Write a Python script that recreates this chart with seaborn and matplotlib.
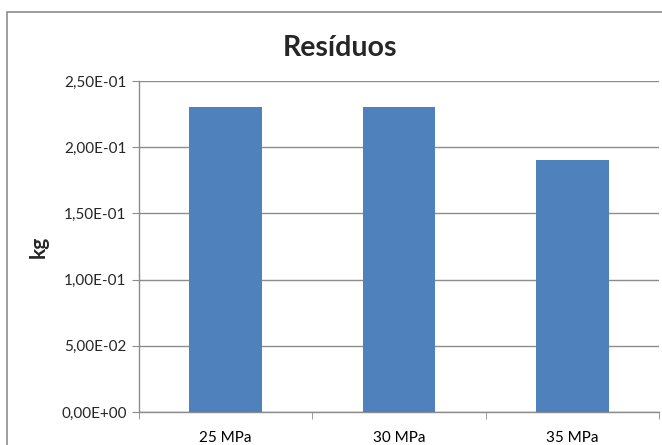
import matplotlib
matplotlib.use("Agg")
import matplotlib.pyplot as plt
from matplotlib.patches import Rectangle
from matplotlib.ticker import FuncFormatter, FixedLocator
import seaborn as sns
import pandas as pd

categories = ["25 MPa", "30 MPa", "35 MPa"]
residuos_kg = [0.23, 0.23, 0.19]
y_ticks = [0.0, 0.05, 0.10, 0.15, 0.20, 0.25]

sns.set_style("white")
plt.rcParams["font.family"] = ["Lato", "DejaVu Sans"]

df = pd.DataFrame({"Pressão": categories, "kg": residuos_kg})

fig = plt.figure(figsize=(6.62, 4.45), dpi=100)
ax = fig.add_axes([139 / 662, 1 - 412 / 445, (659 - 139) / 662, (412 - 81) / 445])

# chart frame, running off the right and bottom edges
fig.patches.append(Rectangle((7 / 662, -0.1), 1.2, 1 - 12 / 445 + 0.1,
                             transform=fig.transFigure, fill=False,
                             edgecolor="#8c8c8c", linewidth=1.2, zorder=0))

sns.barplot(data=df, x="Pressão", y="kg", color="#4F81BD", width=0.42,
            saturation=1, linewidth=0, ax=ax, zorder=3)

ax.set_xlim(-0.5, 2.5)
ax.set_ylim(0, 0.25)
ax.set_yticks(y_ticks)
ax.yaxis.set_major_formatter(FuncFormatter(lambda v, _: f"{v:.2E}".replace(".", ",")))
ax.yaxis.grid(True, color="#8c8c8c", linewidth=1.0, zorder=0)
ax.set_axisbelow(True)

ax.xaxis.set_minor_locator(FixedLocator([-0.5, 0.5, 1.5, 2.5]))
ax.tick_params(axis="x", which="major", length=0, pad=14, labelsize=11, colors="black")
ax.tick_params(axis="x", which="minor", length=5, color="#8c8c8c", direction="out")
ax.tick_params(axis="y", length=5, color="#8c8c8c", direction="out", labelsize=11, pad=4)
ax.tick_params(axis="both", bottom=True, left=True, which="both")
ax.tick_params(axis="x", which="major", bottom=False)

for side in ["top", "right"]:
    ax.spines[side].set_visible(False)
for side in ["left", "bottom"]:
    ax.spines[side].set_color("#8c8c8c")
    ax.spines[side].set_linewidth(1.0)

ax.set_xlabel("")
ax.set_ylabel("kg", fontsize=15, fontweight="bold", labelpad=9)
fig.text(340 / 662, 1 - 48 / 445, "Resíduos", ha="center", va="center",
         fontsize=20.5, fontweight="bold")

fig.savefig("out.png", dpi=100)
